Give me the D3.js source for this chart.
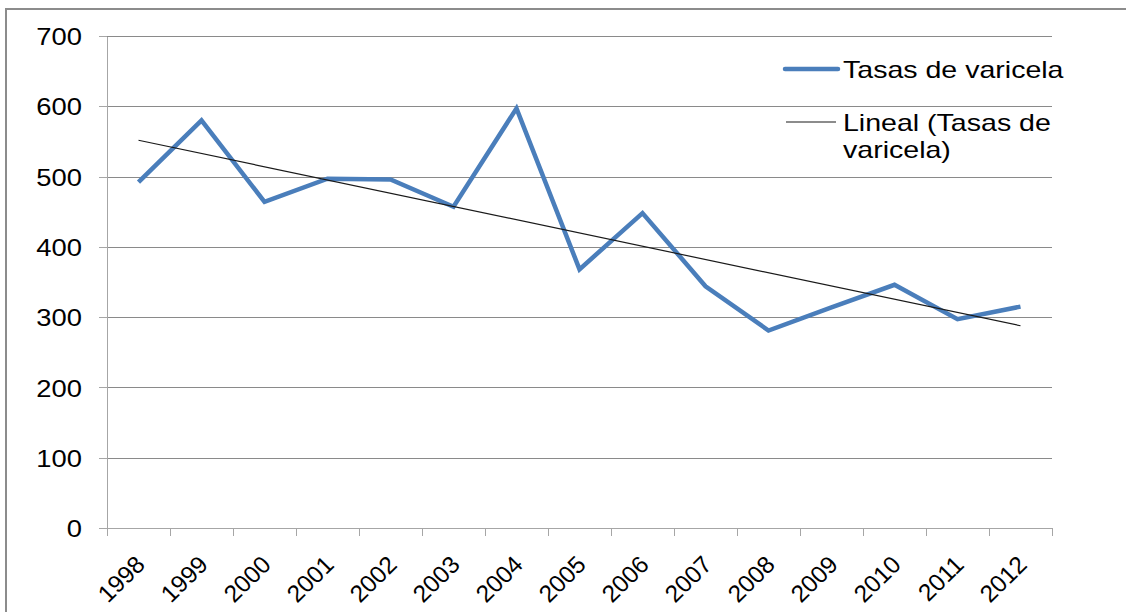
<!DOCTYPE html>
<html>
<head>
<meta charset="utf-8">
<script src="https://cdn.jsdelivr.net/npm/d3@7/dist/d3.min.js"></script>
<style>
  html, body { margin: 0; padding: 0; background: #fff; }
  svg { display: block; }
  text { font-family: "Liberation Sans", Arial, sans-serif; fill: #000; }
</style>
</head>
<body>
<svg id="chart" width="1126" height="612"></svg>
<script>
// ---- data ----
const years = ["1998","1999","2000","2001","2002","2003","2004","2005","2006","2007","2008","2009","2010","2011","2012"];
const rates = [492, 580, 464, 497, 496, 457, 597, 368, 448, 344, 281, 314, 346, 297, 315];
const yTicks = [0, 100, 200, 300, 400, 500, 600, 700];
const seriesName = "Tasas de varicela";
const trendName = ["Lineal (Tasas de", "varicela)"];

// ---- layout ----
const plotLeft = 107, plotRight = 1052, plotTop = 36, plotBottom = 528;
const SXY = 1.14, SXX = 1.02, SXL = 1.19; // horizontal text stretch of the original picture
const FS = 24, FSX = 24;

const svg = d3.select("#chart");

// outer frame
svg.append("rect")
  .attr("x", 6).attr("y", 9).attr("width", 1140).attr("height", 640)
  .attr("fill", "none").attr("stroke", "#8c8c8c").attr("stroke-width", 2);

const x = d3.scaleBand().domain(years).range([plotLeft, plotRight]).paddingInner(0).paddingOuter(0);
const y = d3.scaleLinear().domain([0, 700]).range([plotBottom, plotTop]);
const cx = d => x(d) + x.bandwidth() / 2;

// gridlines
const grid = svg.append("g").attr("transform", `translate(${plotLeft},0)`)
  .call(d3.axisLeft(y).tickValues(yTicks.filter(v => v > 0)).tickSize(-(plotRight - plotLeft)).tickFormat(""));
grid.select(".domain").remove();
grid.selectAll("line").attr("stroke", "#8a8a8a").attr("stroke-width", 1)
  .attr("shape-rendering", "crispEdges");

// y axis
const yAx = svg.append("g").attr("transform", `translate(${plotLeft},0)`)
  .call(d3.axisLeft(y).tickValues(yTicks).tickSizeInner(8).tickSizeOuter(0).tickPadding(0));
yAx.select(".domain").attr("stroke", "#a6a6a6").attr("shape-rendering", "crispEdges");
yAx.selectAll("line").attr("stroke", "#a6a6a6").attr("shape-rendering", "crispEdges");
yAx.selectAll("text")
  .attr("x", 0).attr("dy", "0.36em")
  .attr("text-anchor", "end")
  .attr("transform", `translate(-25,0) scale(${SXY},1)`)
  .style("font-size", FS + "px")
  .style("font-family", '"Liberation Sans", Arial, sans-serif')
  .attr("fill", "#000");

// x axis line and boundary ticks
const xAx = svg.append("g").attr("transform", `translate(0,${plotBottom})`)
  .call(d3.axisBottom(x).tickSize(0).tickFormat(""));
xAx.select(".domain").attr("d", `M${plotLeft - 8},0H${plotRight}`)
  .attr("stroke", "#a6a6a6").attr("shape-rendering", "crispEdges");
xAx.selectAll(".tick").remove();
const bounds = years.map(d => x(d)).concat([plotRight]);
xAx.selectAll("line.bt").data(bounds).join("line").attr("class", "bt")
  .attr("x1", d => d).attr("x2", d => d).attr("y1", 0).attr("y2", 8)
  .attr("stroke", "#a6a6a6").attr("shape-rendering", "crispEdges");

// x labels
svg.append("g").selectAll("text").data(years).join("text")
  .attr("transform", d => `translate(${cx(d) + 8},566) scale(${SXX},1) rotate(-45)`)
  .attr("text-anchor", "end")
  .style("font-size", FSX + "px")
  .text(d => d);

// trend line (least squares on the series)
const n = rates.length;
const xs = d3.range(n);
const mx = d3.mean(xs), my = d3.mean(rates);
const slope = d3.sum(xs, i => (i - mx) * (rates[i] - my)) / d3.sum(xs, i => (i - mx) * (i - mx));
const icpt = my - slope * mx;
const trend = years.map((d, i) => ({ year: d, v: icpt + slope * i }));

const line = d3.line().x(d => cx(d.year)).y(d => y(d.v));

// series
svg.append("path")
  .datum(years.map((d, i) => ({ year: d, v: rates[i] })))
  .attr("d", line)
  .attr("fill", "none").attr("stroke", "#4a7ebb").attr("stroke-width", 4.5)
  .attr("stroke-linejoin", "miter").attr("stroke-miterlimit", 10);

svg.append("path")
  .datum([trend[0], trend[n - 1]])
  .attr("d", line)
  .attr("fill", "none").attr("stroke", "#1a1a1a").attr("stroke-width", 1.2);

// legend
const lg = svg.append("g");
lg.append("line").attr("x1", 785).attr("x2", 838).attr("y1", 69).attr("y2", 69)
  .attr("stroke", "#4a7ebb").attr("stroke-width", 4.5).attr("stroke-linecap", "round");
lg.append("text").attr("transform", `translate(843,78) scale(${SXL},1)`)
  .style("font-size", FS + "px").text(seriesName);
lg.append("line").attr("x1", 786).attr("x2", 836).attr("y1", 122).attr("y2", 122)
  .attr("stroke", "#1a1a1a").attr("stroke-width", 1.2);
lg.append("text").attr("transform", `translate(843,131) scale(${SXL},1)`)
  .style("font-size", FS + "px").text(trendName[0]);
lg.append("text").attr("transform", `translate(843,158) scale(${SXL},1)`)
  .style("font-size", FS + "px").text(trendName[1]);
</script>
</body>
</html>
